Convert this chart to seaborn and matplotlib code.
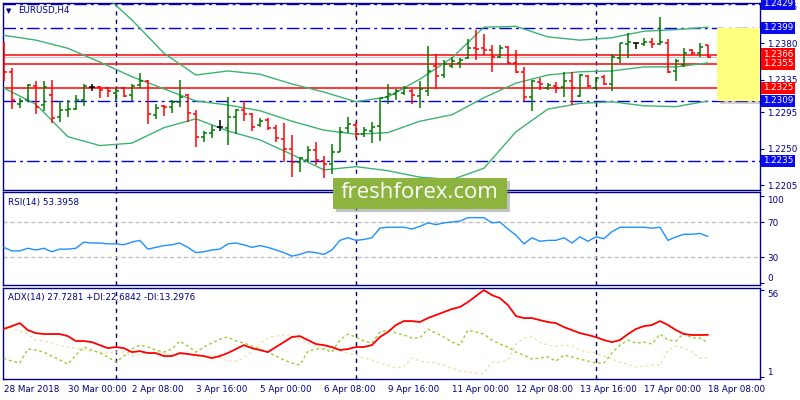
import matplotlib
matplotlib.use("Agg")
import matplotlib.pyplot as plt
import matplotlib.transforms as mtransforms
from matplotlib.patches import Rectangle
import pandas as pd
import seaborn as sns

# EURUSD H4 bars (28 Mar 2018 -> 18 Apr 2018)
opens = [1.2378, 1.2345, 1.2305, 1.2310, 1.2327, 1.2304, 1.2316, 1.2289, 1.2298, 1.2299,
         1.2310, 1.2326, 1.2326, 1.2325, 1.2319, 1.2325, 1.2316, 1.2329, 1.2334, 1.2292,
         1.2303, 1.2302, 1.2308, 1.2316, 1.2293, 1.2265, 1.2270, 1.2277, 1.2276, 1.2289,
         1.2298, 1.2293, 1.2279, 1.2286, 1.2276, 1.2262, 1.2250, 1.2234, 1.2236, 1.2248,
         1.2235, 1.2231, 1.2246, 1.2276, 1.2279, 1.2268, 1.2272, 1.2278, 1.2314, 1.2318,
         1.2319, 1.2321, 1.2315, 1.2321, 1.2352, 1.2341, 1.2352, 1.2356, 1.2362, 1.2374,
         1.2374, 1.2372, 1.2363, 1.2376, 1.2356, 1.2345, 1.2314, 1.2332, 1.2325, 1.2327,
         1.2326, 1.2334, 1.2315, 1.2340, 1.2325, 1.2339, 1.2330, 1.2362, 1.2379, 1.2380,
         1.2379, 1.2382, 1.2379, 1.2380, 1.2346, 1.2353, 1.2372, 1.2368, 1.2378]
highs = [1.2382, 1.2350, 1.2313, 1.2330, 1.2334, 1.2334, 1.2335, 1.2309, 1.2310, 1.2316,
         1.2330, 1.2330, 1.2327, 1.2326, 1.2325, 1.2326, 1.2330, 1.2344, 1.2335, 1.2305,
         1.2304, 1.2310, 1.2335, 1.2318, 1.2298, 1.2272, 1.2279, 1.2286, 1.2314, 1.2299,
         1.2309, 1.2294, 1.2288, 1.2288, 1.2279, 1.2282, 1.2267, 1.2240, 1.2254, 1.2258,
         1.2241, 1.2256, 1.2277, 1.2289, 1.2283, 1.2277, 1.2283, 1.2313, 1.2330, 1.2324,
         1.2327, 1.2324, 1.2334, 1.2377, 1.2367, 1.2360, 1.2363, 1.2362, 1.2385, 1.2397,
         1.2392, 1.2378, 1.2378, 1.2377, 1.2372, 1.2351, 1.2335, 1.2337, 1.2331, 1.2332,
         1.2345, 1.2345, 1.2342, 1.2341, 1.2339, 1.2341, 1.2367, 1.2380, 1.2393, 1.2380,
         1.2387, 1.2387, 1.2413, 1.2385, 1.2361, 1.2374, 1.2373, 1.2380, 1.2378]
lows = [1.2334, 1.2299, 1.2300, 1.2309, 1.2293, 1.2297, 1.2282, 1.2283, 1.2289, 1.2298,
        1.2303, 1.2321, 1.2313, 1.2314, 1.2309, 1.2314, 1.2309, 1.2325, 1.2281, 1.2287,
        1.2291, 1.2294, 1.2302, 1.2283, 1.2252, 1.2258, 1.2263, 1.2272, 1.2255, 1.2268,
        1.2284, 1.2272, 1.2277, 1.2273, 1.2258, 1.2234, 1.2215, 1.2221, 1.2234, 1.2230,
        1.2214, 1.2219, 1.2246, 1.2270, 1.2263, 1.2265, 1.2257, 1.2260, 1.2305, 1.2310,
        1.2316, 1.2305, 1.2300, 1.2315, 1.2324, 1.2337, 1.2350, 1.2350, 1.2361, 1.2360,
        1.2366, 1.2345, 1.2362, 1.2355, 1.2344, 1.2309, 1.2297, 1.2323, 1.2323, 1.2319,
        1.2314, 1.2304, 1.2314, 1.2326, 1.2324, 1.2329, 1.2321, 1.2356, 1.2362, 1.2373,
        1.2377, 1.2374, 1.2378, 1.2344, 1.2334, 1.2351, 1.2366, 1.2363, 1.2362]
closes = [1.2345, 1.2310, 1.2309, 1.2329, 1.2302, 1.2326, 1.2288, 1.2298, 1.2299, 1.2310,
          1.2327, 1.2326, 1.2323, 1.2321, 1.2321, 1.2315, 1.2327, 1.2334, 1.2293, 1.2300,
          1.2302, 1.2308, 1.2314, 1.2294, 1.2265, 1.2270, 1.2273, 1.2277, 1.2289, 1.2298,
          1.2293, 1.2277, 1.2284, 1.2276, 1.2263, 1.2250, 1.2234, 1.2239, 1.2248, 1.2236,
          1.2231, 1.2246, 1.2271, 1.2281, 1.2268, 1.2273, 1.2277, 1.2313, 1.2318, 1.2321,
          1.2325, 1.2316, 1.2324, 1.2346, 1.2340, 1.2355, 1.2358, 1.2360, 1.2374, 1.2373,
          1.2372, 1.2363, 1.2374, 1.2356, 1.2345, 1.2314, 1.2334, 1.2330, 1.2329, 1.2325,
          1.2334, 1.2325, 1.2341, 1.2327, 1.2337, 1.2330, 1.2363, 1.2380, 1.2382, 1.2380,
          1.2382, 1.2379, 1.2382, 1.2345, 1.2358, 1.2368, 1.2368, 1.2376, 1.2363]

# Bollinger bands, sampled every 4th bar
band_bars = list(range(0, 89, 4))
bb_upper = [1.2483, 1.2470, 1.2458, 1.2445, 1.2409, 1.2368, 1.2341, 1.2346, 1.2342, 1.2330,
            1.2320, 1.2308, 1.2314, 1.2336, 1.2362, 1.2400, 1.2401, 1.2388, 1.2384, 1.2387,
            1.2395, 1.2397, 1.2400]
bb_mid = [1.2390, 1.2384, 1.2374, 1.2357, 1.2339, 1.2324, 1.2309, 1.2304, 1.2297, 1.2284,
          1.2273, 1.2268, 1.2270, 1.2284, 1.2292, 1.2313, 1.2331, 1.2341, 1.2345, 1.2346,
          1.2351, 1.2351, 1.2356]
bb_lower = [1.2325, 1.2305, 1.2265, 1.2254, 1.2257, 1.2276, 1.2287, 1.2272, 1.2261, 1.2243,
            1.2224, 1.2228, 1.2223, 1.2215, 1.2212, 1.2226, 1.2271, 1.2299, 1.2306, 1.2308,
            1.2303, 1.2302, 1.2309]

rsi = [41, 37, 37, 40, 38, 40, 36, 39, 39, 40, 47, 46, 46, 45, 45, 44, 47, 49, 39, 41,
       43, 44, 46, 41, 35, 36, 38, 39, 45, 46, 44, 41, 43, 41, 38, 35, 31, 33, 36, 35,
       33, 38, 49, 52, 49, 50, 52, 63, 64, 64, 64, 62, 65, 69, 67, 69, 70, 71, 75, 75,
       75, 69, 70, 62, 55, 45, 52, 48, 49, 49, 52, 46, 53, 48, 53, 51, 59, 64, 64, 64,
       64, 63, 64, 49, 53, 56, 56, 57, 53.4]

adx = [31.4, 33.2, 35.1, 30.7, 28.8, 28.2, 28.2, 28.2, 26.9, 23.8, 23.8, 23.1, 21.2, 19.3,
       20.0, 19.3, 16.8, 17.4, 16.2, 16.2, 14.3, 14.3, 16.2, 15.6, 14.9, 14.3, 13.0, 14.3,
       16.2, 18.7, 21.2, 19.3, 18.1, 16.8, 20.0, 23.1, 26.3, 26.9, 24.4, 21.9, 21.2, 20.0,
       18.1, 18.7, 20.0, 20.0, 21.2, 26.3, 29.5, 33.9, 36.4, 36.4, 35.8, 38.3, 40.2, 42.1,
       44.0, 45.3, 48.4, 52.2, 56.0, 52.8, 50.9, 46.5, 39.6, 38.3, 38.3, 37.0, 35.8, 35.1,
       32.6, 30.7, 28.8, 27.6, 26.3, 24.4, 23.1, 24.4, 28.2, 31.4, 33.2, 33.9, 36.4, 33.9,
       30.7, 28.2, 27.6, 27.6, 27.7]
plus_di = [13.0, 11.1, 9.9, 18.7, 18.1, 16.8, 14.3, 11.8, 9.2, 14.9, 20.0, 18.1, 16.2, 13.7,
           10.5, 14.3, 18.7, 21.2, 20.0, 18.1, 16.8, 18.7, 23.8, 20.6, 16.8, 20.0, 22.5, 25.0,
           26.3, 23.8, 22.5, 20.6, 18.7, 16.8, 14.3, 11.8, 9.9, 8.6, 17.4, 18.7, 18.7, 16.8,
           24.4, 28.2, 26.3, 23.8, 22.5, 29.5, 30.7, 28.8, 27.6, 25.7, 25.7, 31.4, 28.8, 26.3,
           23.1, 21.2, 30.7, 29.5, 28.2, 24.4, 21.9, 20.0, 16.8, 14.9, 12.4, 13.0, 13.7, 11.1,
           14.9, 13.7, 12.4, 11.1, 9.9, 9.9, 16.2, 21.2, 24.4, 22.5, 23.1, 21.9, 28.2, 24.4,
           23.8, 28.8, 25.7, 25.7, 22.7]
minus_di = [32.6, 32.0, 30.1, 28.2, 24.4, 23.8, 22.5, 20.6, 20.0, 19.3, 18.1, 17.4, 16.8, 16.2,
            16.8, 16.8, 14.3, 14.9, 16.8, 16.2, 16.2, 14.9, 14.9, 15.6, 13.7, 14.3, 14.9, 13.0,
            11.1, 11.1, 13.0, 17.4, 21.9, 25.7, 26.9, 27.6, 27.6, 25.0, 22.5, 20.0, 19.3, 19.3,
            17.4, 16.2, 14.9, 13.0, 11.8, 9.9, 8.6, 6.7, 7.3, 13.0, 11.1, 10.5, 9.9, 8.6,
            6.7, 4.8, 4.2, 3.5, 3.5, 10.5, 10.5, 11.8, 21.9, 25.7, 26.3, 23.1, 21.2, 20.6,
            21.2, 20.6, 18.1, 16.8, 16.2, 14.3, 12.4, 10.5, 9.2, 7.3, 8.0, 8.6, 8.6, 18.1,
            20.6, 19.3, 16.8, 13.0, 13.3]

date_labels = ["28 Mar 2018", "30 Mar 00:00", "2 Apr 08:00", "3 Apr 16:00", "5 Apr 00:00",
               "6 Apr 08:00", "9 Apr 16:00", "11 Apr 00:00", "12 Apr 08:00", "13 Apr 16:00",
               "17 Apr 00:00", "18 Apr 08:00"]
period_lines = [14, 44, 74]
dashdot_levels = [1.2429, 1.2399, 1.2309, 1.2235]
red_levels = [1.2366, 1.2355, 1.2325]
price_ticks = [1.2425, 1.2380, 1.2335, 1.2295, 1.2250, 1.2205]

NAVY = "#000080"
BLUE = "#0A0AF0"

sns.set_style("white")
plt.rcParams["font.family"] = ["DejaVu Sans"]

fig = plt.figure(figsize=(8, 4), dpi=100)
ax = fig.add_axes([0.00375, 0.525, 0.94625, 0.4675])
ax_rsi = fig.add_axes([0.00375, 0.2875, 0.94625, 0.2325], sharex=ax)
ax_adx = fig.add_axes([0.00375, 0.0525, 0.94625, 0.2275], sharex=ax)

df = pd.DataFrame({"o": opens, "h": highs, "l": lows, "c": closes})
df["bar"] = range(len(df))

# ---- main price panel
for a in (ax, ax_rsi, ax_adx):
    for x in period_lines:
        a.axvline(x, color="#00006A", lw=1, ls=(0, (3, 3)), zorder=1)
    for s in a.spines.values():
        s.set_color(NAVY)
        s.set_linewidth(1)

for lev in dashdot_levels:
    ax.axhline(lev, color="#0000E6", lw=1, ls=(0, (9, 3, 2, 3)), zorder=1)
ax.axhline(closes[-1], color="#C8C8C8", lw=1, zorder=1)
for lev in red_levels:
    ax.axhline(lev, color="#FF0000", lw=1.1, zorder=2)

bands = pd.DataFrame({"bar": band_bars, "up": bb_upper, "mid": bb_mid, "low": bb_lower})
for col in ["up", "mid", "low"]:
    sns.lineplot(data=bands, x="bar", y=col, ax=ax, color="#3CB371", lw=1, zorder=3)

tick = 0.38
for _, r in df.iterrows():
    if r.c > r.o:
        col = "#007A00"
    elif r.c < r.o:
        col = "#FF0000"
    else:
        col = "black"
    ax.vlines(r.bar, r.l, r.h, color=col, lw=1.1, zorder=4)
    ax.hlines(r.o, r.bar - tick, r.bar, color=col, lw=1.1, zorder=4)
    ax.hlines(r.c, r.bar, r.bar + tick, color=col, lw=1.1, zorder=4)

ax.set_xlim(-0.1, 94.5)
ax.set_ylim(1.21992, 1.24298)

# yellow zone with shadow
ax.add_patch(Rectangle((89.5, 1.2309 - 0.0004), 6, 0.0090, color="#808080", alpha=0.35,
                       lw=0, zorder=5))
ax.add_patch(Rectangle((89.1, 1.2309), 6, 0.0090, facecolor="#FFFF80", lw=0, zorder=6))

ax.yaxis.tick_right()
ax.set_yticks(price_ticks)
ax.set_yticklabels([f"{v:.4f}" for v in price_ticks])
ax.tick_params(axis="y", length=3, color=NAVY, labelcolor=NAVY, labelsize=6.3, pad=2)
ax.tick_params(axis="x", bottom=False, labelbottom=False)
ax.set_xlabel("")
ax.set_ylabel("")

tr = mtransforms.blended_transform_factory(ax.transAxes, ax.transData)
for lev in dashdot_levels:
    ax.text(1.004, lev, f"{lev:.4f}", transform=tr, color="white", fontsize=6.3,
            va="center", ha="left", clip_on=False, zorder=20,
            bbox=dict(boxstyle="square,pad=0.22", fc=BLUE, ec="none"))
for lev in red_levels:
    ax.text(1.004, lev, f"{lev:.4f}", transform=tr, color="white", fontsize=6.3,
            va="center", ha="left", clip_on=False, zorder=20,
            bbox=dict(boxstyle="square,pad=0.22", fc="#FF0000", ec="none"))

fig.text(9 / 800, 1 - 11 / 400, "\u25bc", color=NAVY, fontsize=5, va="center", ha="center")
fig.text(18 / 800, 1 - 10 / 400, "EURUSD,H4", color=NAVY, fontsize=6.3, va="center")

# ---- RSI panel
ind = pd.DataFrame({"bar": range(len(rsi)), "rsi": rsi, "adx": adx,
                    "pdi": plus_di, "mdi": minus_di})
for lev in (70, 30):
    ax_rsi.axhline(lev, color="#C0C0C0", lw=1, ls=(0, (3, 2)), zorder=1)
sns.lineplot(data=ind, x="bar", y="rsi", ax=ax_rsi, color="#1E90FF", lw=1, zorder=3)
ax_rsi.set_ylim(-2, 104.3)
ax_rsi.yaxis.tick_right()
ax_rsi.set_yticks([100, 70, 30, 0])
ax_rsi.set_yticklabels(["100", "70", "30", "0"])
ax_rsi.tick_params(axis="y", length=3, color=NAVY, labelcolor=NAVY, labelsize=6.3, pad=2)
ax_rsi.tick_params(axis="x", bottom=False, labelbottom=False)
ax_rsi.get_yticklabels()[0].set_va("top")
ax_rsi.get_yticklabels()[-1].set_va("bottom")
ax_rsi.set_xlabel("")
ax_rsi.set_ylabel("")
ax_rsi.text(0.006, 0.89, "RSI(14) 53.3958", transform=ax_rsi.transAxes, color=NAVY,
            fontsize=6.3, va="center")

# ---- ADX panel
sns.lineplot(data=ind, x="bar", y="mdi", ax=ax_adx, color="#F5DEB3", lw=1,
             linestyle=(0, (2, 2)), zorder=2)
sns.lineplot(data=ind, x="bar", y="pdi", ax=ax_adx, color="#9ACD32", lw=1,
             linestyle=(0, (2, 2)), zorder=3)
sns.lineplot(data=ind, x="bar", y="adx", ax=ax_adx, color="#FF0000", lw=1.3, zorder=4)
ax_adx.set_ylim(-0.2, 57.3)
ax_adx.yaxis.tick_right()
ax_adx.set_yticks([56, 1])
ax_adx.set_yticklabels(["56", "1"])
ax_adx.tick_params(axis="y", length=3, color=NAVY, labelcolor=NAVY, labelsize=6.3, pad=2)
ax_adx.get_yticklabels()[0].set_va("top")
ax_adx.get_yticklabels()[1].set_va("bottom")
ax_adx.set_xticks(list(range(0, 89, 8)))
ax_adx.set_xticklabels(date_labels)
ax_adx.tick_params(axis="x", length=3, color=NAVY, labelcolor=NAVY, labelsize=6.3, pad=1.5)
for lbl in ax_adx.get_xticklabels():
    lbl.set_ha("left")
ax_adx.set_xlabel("")
ax_adx.set_ylabel("")
ax_adx.text(0.006, 0.9, "ADX(14) 27.7281 +DI:22.6842 -DI:13.2976", transform=ax_adx.transAxes,
            color=NAVY, fontsize=6.3, va="center")

# ---- watermark
fig.add_artist(Rectangle((336 / 800, 1 - 212 / 400), 174 / 800, 31 / 400,
                         transform=fig.transFigure, color="#7a7a7a", alpha=0.45, lw=0))
fig.add_artist(Rectangle((333 / 800, 1 - 209 / 400), 174 / 800, 31 / 400,
                         transform=fig.transFigure, color="#8CB43E", lw=0))
fig.text(420 / 800, 1 - 193 / 400, "freshforex.com", color="white", fontsize=16,
         family="Open Sans", ha="center", va="center")

fig.savefig("out.png", dpi=100)
